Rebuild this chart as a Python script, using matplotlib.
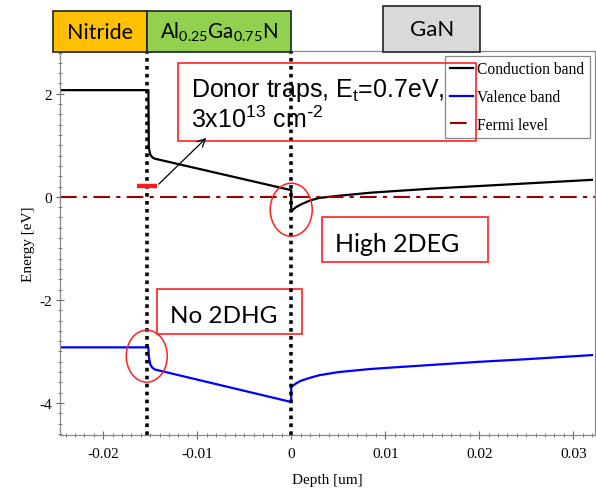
import numpy as np
import matplotlib.pyplot as plt
from matplotlib.patches import Rectangle, Ellipse
from matplotlib.ticker import MultipleLocator
import matplotlib.transforms as mtransforms

plt.rcParams['axes.unicode_minus'] = False
plt.rcParams['mathtext.default'] = 'regular'

# band edges (depth in um, energy in eV)
x_cb = [-0.0246, -0.0152, -0.01515, -0.0150, -0.0148, -0.0145, 0.0, 0.0,
        0.0005, 0.001, 0.002, 0.003, 0.005, 0.0084, 0.01, 0.015, 0.02, 0.025, 0.032]
e_cb = [2.07, 2.07, 0.95, 0.82, 0.77, 0.74, 0.13, -0.28,
        -0.2, -0.15, -0.07, -0.02, 0.02, 0.08, 0.10, 0.16, 0.21, 0.26, 0.33]
x_vb = [-0.0246, -0.0152, -0.01515, -0.0150, -0.0148, -0.0145, 0.0, 0.0,
        0.0005, 0.001, 0.002, 0.003, 0.005, 0.0084, 0.01, 0.015, 0.02, 0.025, 0.032]
e_vb = [-2.92, -2.92, -3.10, -3.25, -3.31, -3.35, -3.98, -3.69,
        -3.62, -3.57, -3.51, -3.46, -3.40, -3.34, -3.32, -3.26, -3.20, -3.15, -3.07]
x_fermi = [-0.0246, 0.0323]
e_fermi = [0.0, 0.0]
interfaces = [-0.0153, 0.0]
trap_x = [-0.0164, -0.0143]
trap_e = [0.21, 0.21]

fig = plt.figure(figsize=(5.96, 4.89), dpi=100)
ax = fig.add_axes([0.1007, 0.1084, 0.8973, 0.7853])

ax.plot(x_cb, e_cb, color='black', lw=1.6, label='Conduction band')
ax.plot(x_vb, e_vb, color='#0000ff', lw=1.6, label='Valence band')
ax.plot(x_fermi, e_fermi, color='#990000', lw=1.5, ls=(0, (8, 3, 2, 3)), label='Fermi level')
for xi in interfaces:
    ax.axvline(xi, color='black', ls=(0, (1, 1.2)), lw=2.6, zorder=5)
ax.plot(trap_x, trap_e, color='#ff1a1a', lw=3.2, solid_capstyle='butt', zorder=6)

ax.set_xlim(-0.0246, 0.0323)
ax.set_ylim(-4.62, 2.83)
ax.xaxis.set_major_locator(MultipleLocator(0.01))
ax.xaxis.set_minor_locator(MultipleLocator(0.001))
ax.yaxis.set_major_locator(MultipleLocator(2))
ax.yaxis.set_minor_locator(MultipleLocator(0.2))
ax.xaxis.set_major_formatter(plt.FuncFormatter(lambda v, p: '0' if abs(v) < 1e-9 else '%g' % round(v, 3)))
ax.tick_params(which='major', direction='inout', length=6, width=0.8, color='#666666',
               labelsize=11, labelfontfamily='Liberation Serif')
ax.tick_params(which='minor', direction='inout', length=3, width=0.6, color='#666666')
ax.tick_params(axis='y', pad=3)
ax.tick_params(axis='x', pad=6)
for s in ax.spines.values():
    s.set_color('#888888')
    s.set_linewidth(0.9)
ax.set_xlabel('Depth [um]', family='Liberation Serif', fontsize=11, labelpad=9)
ax.set_ylabel('Energy [eV]', family='Liberation Serif', fontsize=11, labelpad=3)

leg = ax.legend(loc='upper right', bbox_to_anchor=(0.9907, 0.987), borderaxespad=0,
                prop={'family': 'Liberation Serif', 'size': 11.2}, fancybox=False,
                edgecolor='#888888', framealpha=1, handlelength=1.5, handletextpad=0.25,
                labelspacing=0.75, borderpad=0.35)
leg.get_frame().set_linewidth(0.9)

red = '#ff2020'
# annotation boxes
ax.add_patch(Rectangle((-0.0120, 1.09), 0.0317, 1.51, fill=False, ec=red, lw=1.2, zorder=7))
ax.text(-0.01064, 1.96, 'Donor traps, E$_t$=0.7eV,', family='Liberation Sans', fontsize=18,
        va='baseline', ha='left', zorder=8)
ax.text(-0.01064, 1.36, '3x10$^{13}$ cm$^{\\text{-}2}$', family='Liberation Sans', fontsize=18,
        va='baseline', ha='left', zorder=8)
ax.add_patch(Rectangle((0.0033, -1.26), 0.0176, 0.87, fill=False, ec=red, lw=1.2, zorder=7))
ax.text(0.01122, -1.05, 'High 2DEG', family='Lato', fontsize=18, va='baseline', ha='center')
ax.add_patch(Rectangle((-0.01426, -2.66), 0.01543, 0.87, fill=False, ec=red, lw=1.2, zorder=4))
ax.text(-0.00718, -2.43, 'No 2DHG', family='Lato', fontsize=17.5, va='baseline', ha='center')
ax.add_patch(Ellipse((0.0, -0.25), 0.00447, 1.03, fill=False, ec=red, lw=1.1, zorder=7))
ax.add_patch(Ellipse((-0.01537, -3.09), 0.00436, 1.01, fill=False, ec=red, lw=1.1, zorder=7))
ax.annotate('', xy=(-0.00883, 1.18), xytext=(-0.0143, 0.21),
            arrowprops=dict(arrowstyle='->', color='black', lw=0.9, mutation_scale=14), zorder=8)

# layer labels above the plot
trans = mtransforms.blended_transform_factory(ax.transData, ax.transAxes)
layers = [('Nitride', -0.0253, -0.0153, 0.997, 1.104, '#ffc000', 15.5),
          ('Al$_{0.25}$Ga$_{0.75}$N', -0.0153, 0.0, 0.997, 1.104, '#92d050', 14.8),
          ('GaN', 0.0098, 0.0201, 0.997, 1.117, '#d9d9d9', 16)]
for name, x0, x1, y0, y1, col, fs in layers:
    ax.add_patch(Rectangle((x0, y0), x1 - x0, y1 - y0, transform=trans, fc=col,
                           ec='#222222', lw=1.2, clip_on=False, zorder=9))
    ax.text((x0 + x1) / 2, (y0 + y1) / 2, name, transform=trans, family='Lato',
            fontsize=fs, ha='center', va='center', zorder=10, clip_on=False)

fig.savefig('out.png', dpi=100)
